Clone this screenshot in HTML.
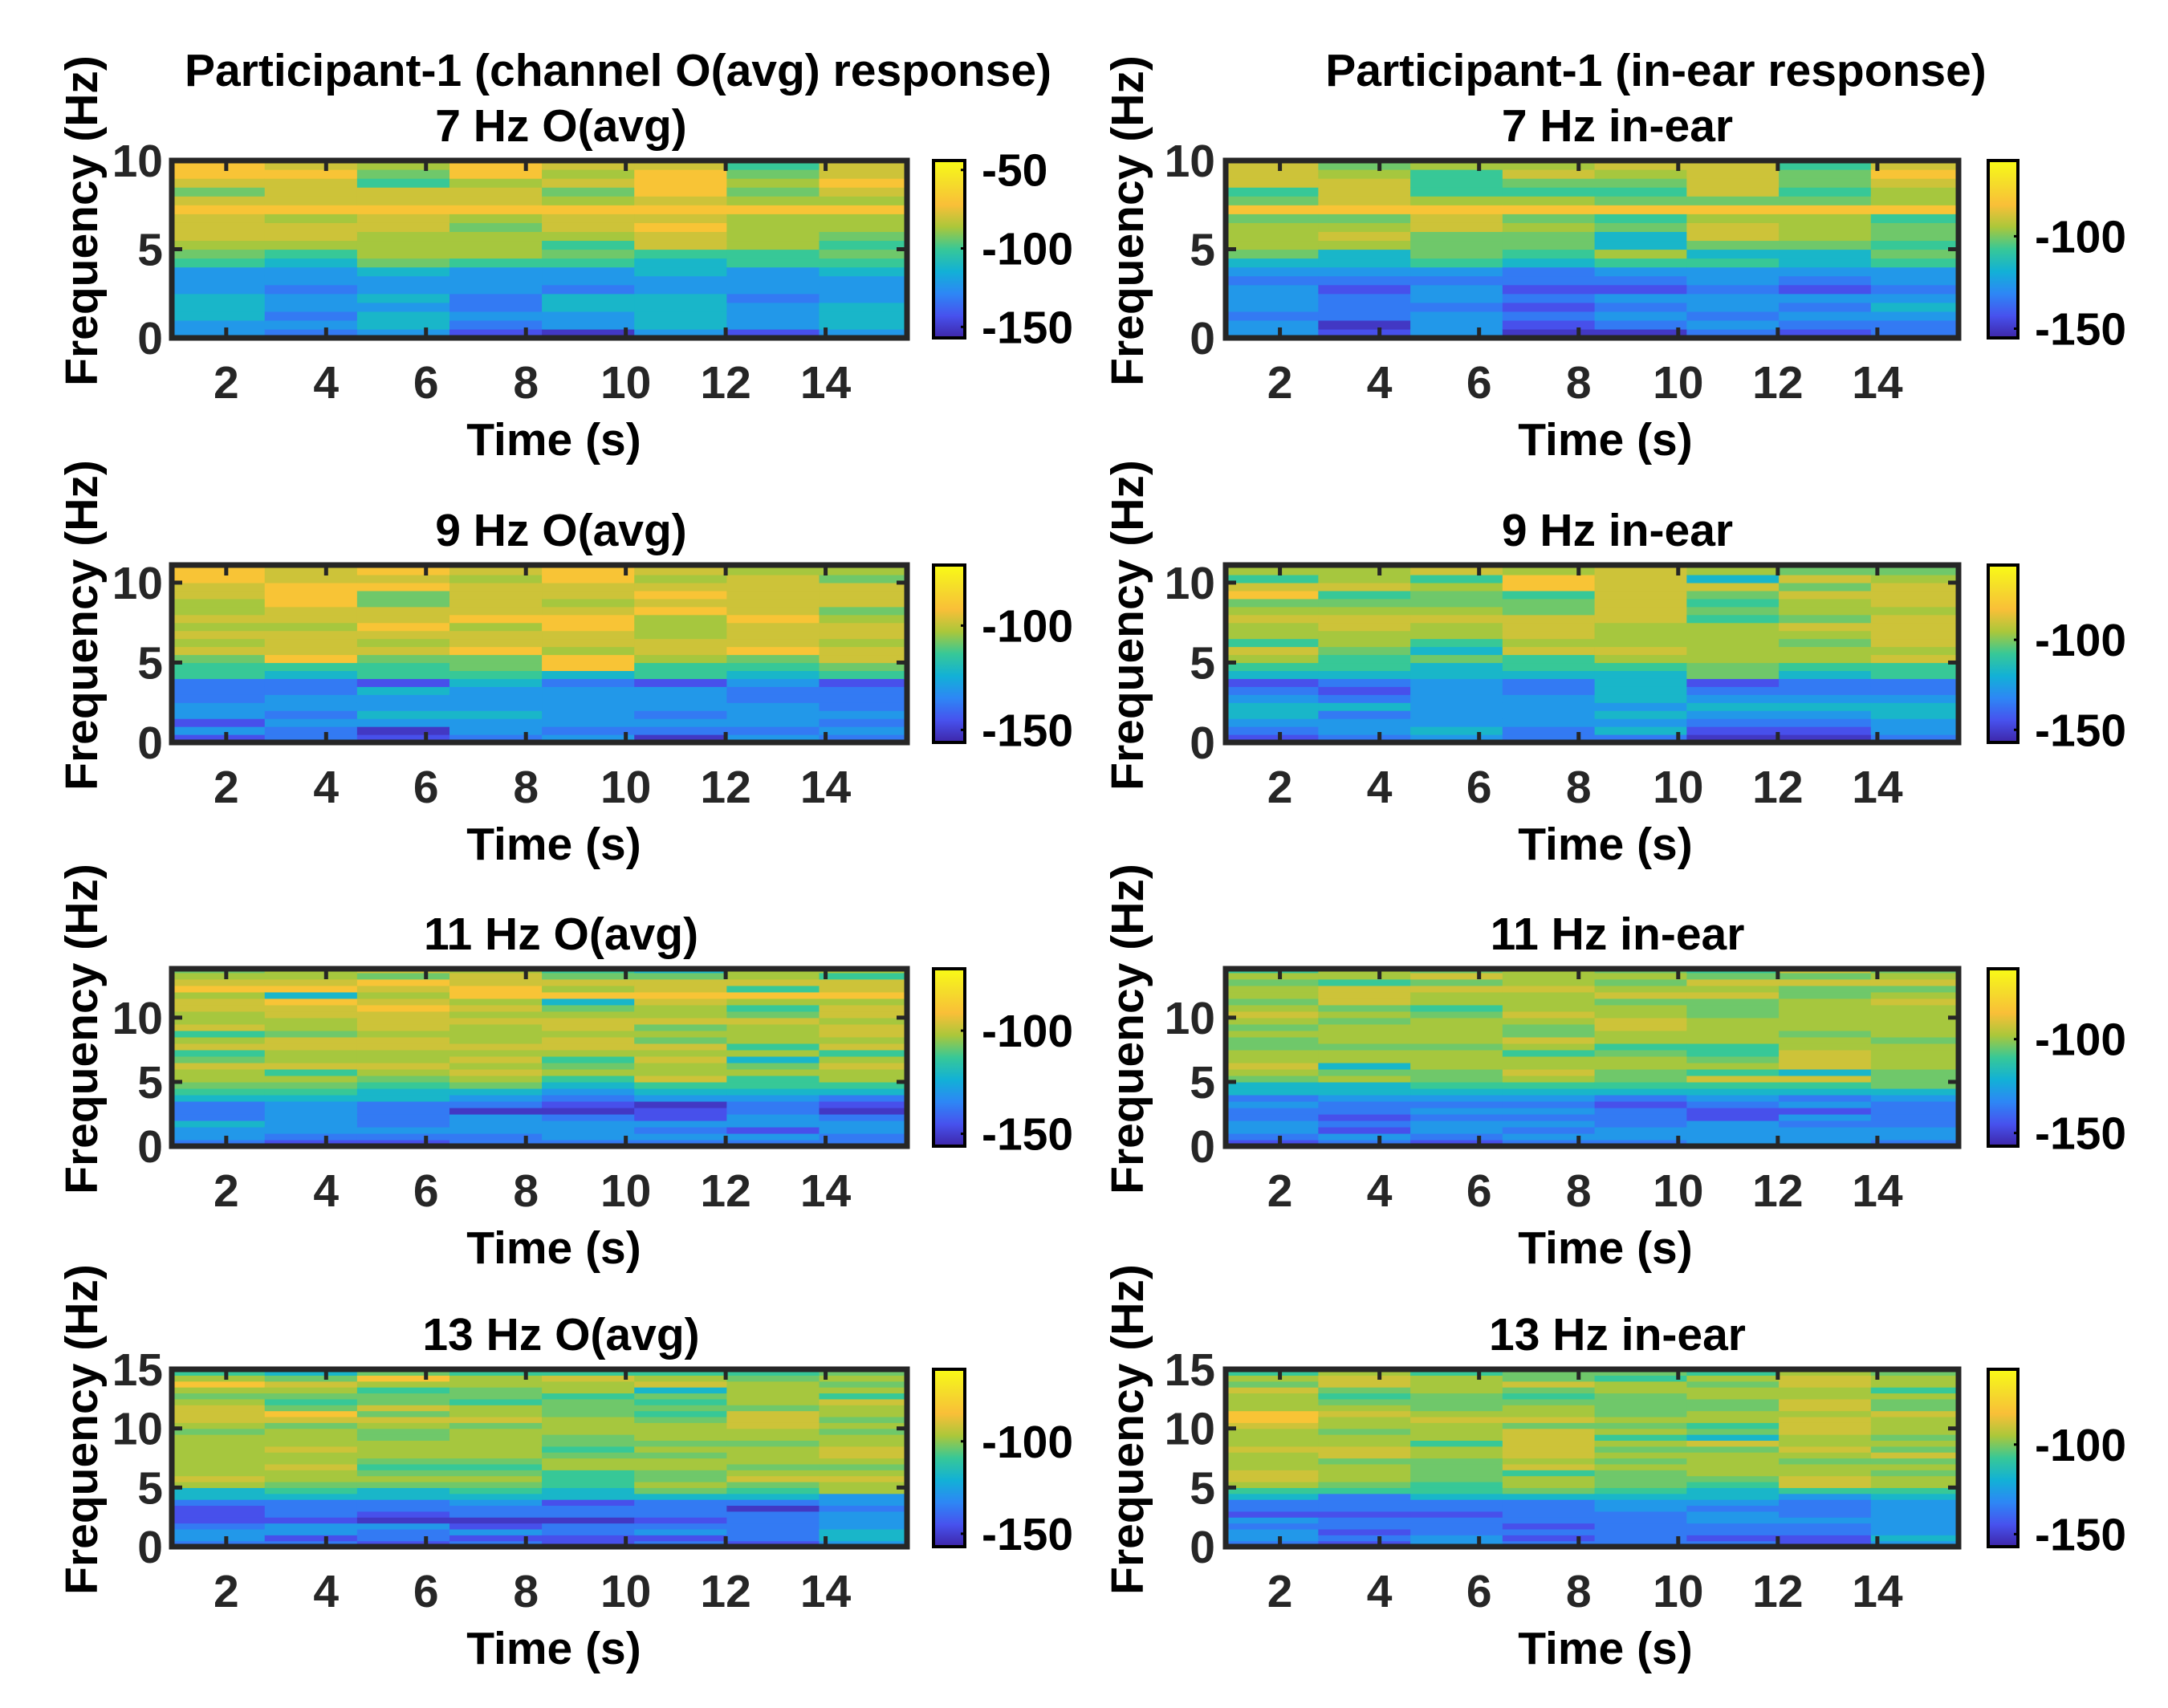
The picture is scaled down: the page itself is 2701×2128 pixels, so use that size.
<!DOCTYPE html>
<html><head><meta charset="utf-8"><style>
html,body{margin:0;padding:0;background:#fff;}
svg{display:block;font-family:"Liberation Sans",Arial,sans-serif;font-weight:bold;}
</style></head><body>
<svg id="fig" width="2701" height="2128" viewBox="0 0 2701 2128" xmlns="http://www.w3.org/2000/svg">
<defs>
<linearGradient id="parula" x1="0" y1="1" x2="0" y2="0">
<stop offset="0" stop-color="#3e26a8"/><stop offset="0.125" stop-color="#4752ee"/><stop offset="0.25" stop-color="#2d87f5"/><stop offset="0.375" stop-color="#12b1d6"/><stop offset="0.5" stop-color="#37c897"/><stop offset="0.625" stop-color="#abc73a"/><stop offset="0.75" stop-color="#f9bf38"/><stop offset="0.875" stop-color="#f5dd2a"/><stop offset="1" stop-color="#f9fb15"/>
</linearGradient>
</defs>
<text x="770" y="107" font-size="57" text-anchor="middle" fill="#000">Participant-1 (channel O(avg) response)</text>
<text x="2063" y="107" font-size="57" text-anchor="middle" fill="#000">Participant-1 (in-ear response)</text>
</svg>
<script>
// ---- data ----
const panelTitles = ["7 Hz O(avg)","7 Hz in-ear","9 Hz O(avg)","9 Hz in-ear","11 Hz O(avg)","11 Hz in-ear","13 Hz O(avg)","13 Hz in-ear"];
const freqMax = [10,10,11.1,11.1,13.8,13.8,15,15];
const freqTicks = [[0,5,10],[0,5,10],[0,5,10],[0,5,10],[0,5,10],[0,5,10],[0,5,10,15],[0,5,10,15]];
const timeTicks = [2,4,6,8,10,12,14];
const timeRange = [0.91,15.63];
const segStart = 0.92;
const segWidth = 1.85;
const binHz = 0.5;
const climLo = [-157,-155,-156,-157,-156,-157,-157,-157];
const climHi = [-44,-59,-71,-58.5,-70,-62.5,-61,-58];
const cbarTicks = [[-50,-100,-150],[-100,-150],[-100,-150],[-100,-150],[-100,-150],[-100,-150],[-100,-150],[-100,-150]];
// power level codes (0 = lowest, 9 = highest), per time segment, bins bottom->top
const codeLevels = [0.05,0.12,0.22,0.30,0.40,0.50,0.56,0.62,0.68,0.77];
const p1 = ["33444333567888986899","23233233457887988898","34434334677788988567","12322333577767988799","03344233565788976878","34444334458898989998","13332333557777976765","34443334565677978988"];
const p2 = ["33233323467776965888","10222123447876988876","33323323566688975557","01212122456676975687","02323123574465965678","23233233546887968888","12323123446777965665","22343233565665977898"];
const p3 = ["13133222556878787788998","22323322459888788999887","10343341556878988669897","23343334566988798888787","32333332499788998788998","02323331557887779898787","32333223456988898888878","23232221568878876888677"];
const p4 = ["12344321457857787698577","23324212455677887658776","34333333446457787667587","22333322455878886659977","24343444457877788888887","01234321667777756568476","01234322457767867786868","23344322558788887888767"];
const p5 = ["2334222456778658758778879876","1233333456758778867788949877","1232222445678778878889878968","2233302346787878777878799887","2333201234576578878876497865","2323110345877878676877898864","2313322345576475777865795877","2233201245778758788788798857"];
const p6 = ["1233223244678776676787677675","2312122344764776777676888577","1233232345667776777765778686","2323232345787757866787778777","2332221245667765778877687676","3333112345857655777766687865","3332313245848887767777766868","2332222346667777677777876876"];
const p7 = ["233211124478777777767888767975","213312224567787787776896567864","122301224467656777667868665796","213102234567656777776877566775","112202214455577656677766657785","213212224676677676777656564875","122222024568767776778886777765","344333233778767887767677857676"];
const p8 = ["233231224578877787778997778675","121221222567776887767787656887","332221224556666775777876667775","212122224677587888886877656866","222222334566676767576766667756","212233234456777768465776677675","112232223588776787788878877887","343333334577676867677786675776"];

const panelData = [p1,p2,p3,p4,p5,p6,p7,p8];
const NS = "http://www.w3.org/2000/svg";
const svg = document.getElementById('fig');
const stops = [[0,[62,38,168]],[0.125,[71,82,238]],[0.25,[45,135,245]],[0.375,[18,177,214]],[0.5,[55,200,151]],[0.625,[171,199,58]],[0.75,[249,191,56]],[0.875,[245,221,42]],[1,[249,251,21]]];
function parula(t){
  t=Math.max(0,Math.min(1,t));
  for(let i=1;i<stops.length;i++){
    if(t<=stops[i][0]){
      const a=stops[i-1],b=stops[i],f=(t-a[0])/(b[0]-a[0]);
      return 'rgb('+a[1].map((v,k)=>Math.round(v+(b[1][k]-v)*f)).join(',')+')';
    }
  }
  return 'rgb(249,251,21)';
}
function mk(tag,attrs,parent){const e=document.createElementNS(NS,tag);for(const k in attrs)e.setAttribute(k,attrs[k]);(parent||svg).appendChild(e);return e;}

const colX = [{x0:214,x1:1130,cb0:1163,cb1:1202,ytr:203,cbl:1223,yl:121,titleX:699,xlX:690},
              {x0:1527,x1:2440,cb0:2477,cb1:2514,ytr:1514,cbl:2535,yl:1424,titleX:2015,xlX:2000}];
const rowY = [200,704,1207,1706];
const axH = 221;

panelData.forEach((cols,pi)=>{
  const C = colX[pi%2], top = rowY[Math.floor(pi/2)], bot = top+axH;
  const g = mk('g',{});
  
  
  const xs = t => C.x0 + (t-timeRange[0])/(timeRange[1]-timeRange[0])*(C.x1-C.x0);
  const ys = f => bot - f/freqMax[pi]*axH;
  const clip = mk('clipPath',{id:'clip'+pi},g);
  mk('rect',{x:C.x0,y:top,width:C.x1-C.x0,height:axH},clip);
  const hm = mk('g',{'clip-path':'url(#clip'+pi+')'},g);
  
  
  cols.forEach((str,ci)=>{
    const xa = xs(segStart+ci*segWidth), xb = xs(segStart+(ci+1)*segWidth);
    for(let bi=0;bi<str.length;bi++){
      const t = codeLevels[+str[bi]];
      const ya = ys((bi+1)*binHz), yb = ys(bi*binHz);
      const r = mk('rect',{x:xa.toFixed(2),y:ya.toFixed(2),width:(xb-xa+0.6).toFixed(2),height:(yb-ya+0.6).toFixed(2),fill:parula(t)},hm);
      
      
    }
  });
  // ticks
  timeTicks.forEach(t=>{
    const x=xs(t);
    mk('line',{x1:x,y1:top,x2:x,y2:top+13,stroke:'#262626','stroke-width':5},g);
    mk('line',{x1:x,y1:bot,x2:x,y2:bot-13,stroke:'#262626','stroke-width':5},g);
    const tl=mk('text',{x:x,y:bot+75,'font-size':57,'text-anchor':'middle',fill:'#262626'},g);
    tl.textContent=t;
    
    
  });
  freqTicks[pi].forEach(f=>{
    const y=ys(f);
    mk('line',{x1:C.x0,y1:y,x2:C.x0+13,y2:y,stroke:'#262626','stroke-width':5},g);
    mk('line',{x1:C.x1,y1:y,x2:C.x1-13,y2:y,stroke:'#262626','stroke-width':5},g);
    const tl=mk('text',{x:C.ytr,y:y+20,'font-size':57,'text-anchor':'end',fill:'#262626'},g);
    tl.textContent=f;
    
    
  });
  const fr=mk('rect',{x:C.x0,y:top,width:C.x1-C.x0,height:axH,fill:'none',stroke:'#262626','stroke-width':7},g);
  
  
  const ti=mk('text',{x:C.titleX,y:top-24,'font-size':57,'text-anchor':'middle',fill:'#000'},g);
  ti.textContent=panelTitles[pi];
  
  
  const xl=mk('text',{x:C.xlX,y:bot+146,'font-size':57,'text-anchor':'middle',fill:'#000'},g);
  xl.textContent='Time (s)';
  
  
  const yc=top+75;
  const yl=mk('text',{x:C.yl,y:yc,'font-size':57,'text-anchor':'middle',fill:'#000',transform:'rotate(-90 '+C.yl+' '+yc+')'},g);
  yl.textContent='Frequency (Hz)';
  
  
  // colorbar
  const cby0=top, cby1=bot;
  const cb=mk('rect',{x:C.cb0,y:cby0,width:C.cb1-C.cb0,height:cby1-cby0,fill:'url(#parula)',stroke:'#000','stroke-width':4},g);
  
  
  const cys = v => cby1 - (v-climLo[pi])/(climHi[pi]-climLo[pi])*(cby1-cby0);
  cbarTicks[pi].forEach(v=>{
    const y=cys(v);
    mk('line',{x1:C.cb1,y1:y,x2:C.cb1-5,y2:y,stroke:'#000','stroke-width':3},g);
    const tl=mk('text',{x:C.cbl,y:y+20,'font-size':57,'text-anchor':'start',fill:'#000'},g);
    tl.textContent=v;
    
    
  });
});
</script>
</body></html>
